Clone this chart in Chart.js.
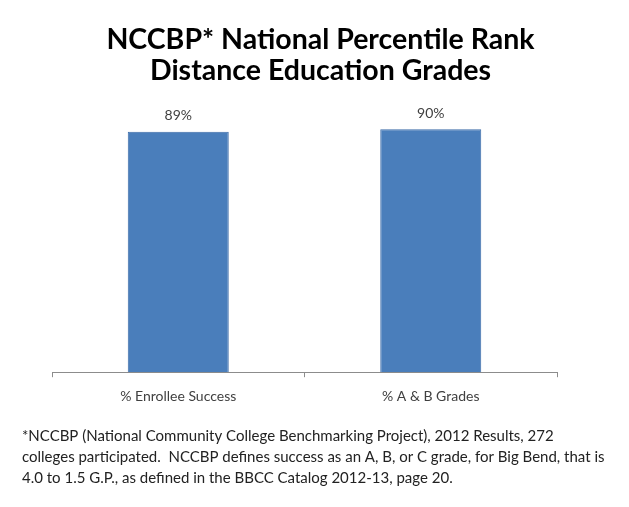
<!DOCTYPE html>
<html>
<head>
<meta charset="utf-8">
<script src="https://cdn.jsdelivr.net/npm/chart.js@4"></script>
<style>
  html, body { margin: 0; padding: 0; background: #fff; }
  #wrap { width: 629px; height: 507px; }
</style>
</head>
<body>
<div id="wrap"><canvas id="chart"></canvas></div>
<script>
const categories = ['% Enrollee Success', '% A & B Grades'];
const percentiles = [89, 90];
const titleLines = ['NCCBP* National Percentile Rank', 'Distance Education Grades'];
const footnoteLines = [
    '*NCCBP (National Community College Benchmarking Project), 2012 Results, 272',
    'colleges participated.  NCCBP defines success as an A, B, or C grade, for Big Bend, that is',
    '4.0 to 1.5 G.P., as defined in the BBCC Catalog 2012-13, page 20.'
];

const fontFamily = 'Lato, "Open Sans", sans-serif';

// Value labels above each bar
const barValueLabels = {
    id: 'barValueLabels',
    afterDatasetsDraw(chart) {
        const ctx = chart.ctx;
        const meta = chart.getDatasetMeta(0);
        ctx.save();
        ctx.font = '14px ' + fontFamily;
        ctx.fillStyle = '#404040';
        ctx.textAlign = 'center';
        ctx.textBaseline = 'bottom';
        meta.data.forEach((bar, i) => {
            ctx.fillText(percentiles[i] + '%', bar.x, bar.y - 9);
        });
        ctx.restore();
    }
};

const ctx = document.getElementById('chart').getContext('2d');
new Chart(ctx, {
    type: 'bar',
    data: {
        labels: categories,
        datasets: [{
            data: percentiles,
            backgroundColor: '#4a7ebb',
            borderColor: '#3d6ca8',
            borderWidth: 1,
            barPercentage: 0.4,
            categoryPercentage: 1.0
        }]
    },
    options: {
        responsive: true,
        maintainAspectRatio: false,
        animation: false,
        layout: { padding: { left: 22, right: 10, top: 0, bottom: 0 } },
        scales: {
            x: {
                grid: {
                    offset: true,
                    drawOnChartArea: false,
                    drawTicks: true,
                    tickLength: 5,
                    color: '#8c8c8c'
                },
                border: { display: true, color: '#8c8c8c' },
                ticks: {
                    color: '#404040',
                    padding: 11,
                    font: { family: fontFamily, size: 14 }
                }
            },
            y: {
                min: 0,
                max: 100,
                ticks: { display: false },
                grid: { display: false },
                border: { display: false },
                afterFit(scale) { scale.width = 30; }
            },
            yRight: {
                position: 'right',
                ticks: { display: false },
                grid: { display: false },
                border: { display: false },
                afterFit(scale) { scale.width = 62; }
            }
        },
        plugins: {
            legend: { display: false },
            tooltip: { enabled: false },
            title: {
                display: true,
                text: titleLines,
                color: '#000',
                font: { family: fontFamily, size: 28.5, weight: 'bold', lineHeight: 1.09 },
                padding: { top: 24, bottom: 16 }
            },
            subtitle: {
                display: true,
                position: 'bottom',
                align: 'start',
                text: footnoteLines,
                color: '#222',
                font: { family: fontFamily, size: 15, lineHeight: 1.4 },
                padding: { top: 10, bottom: 18 }
            }
        }
    },
    plugins: [barValueLabels]
});
</script>
</body>
</html>
